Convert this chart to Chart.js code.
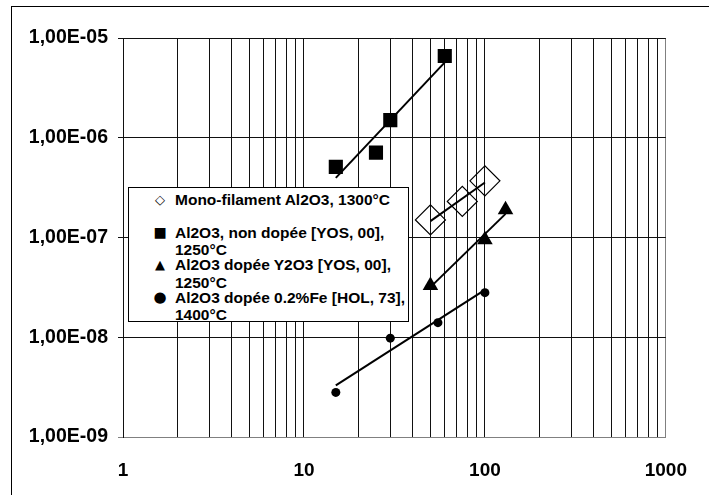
<!DOCTYPE html>
<html>
<head>
<meta charset="utf-8">
<script src="https://cdn.jsdelivr.net/npm/chart.js@4/dist/chart.umd.min.js"></script>
<style>
  body { margin: 0; background: #fff; overflow: hidden; }
  #wrap { position: relative; width: 709px; height: 495px; }
  #frame { position: absolute; left: 11px; top: 6px; width: 720px; height: 520px; border: 1px solid #000; pointer-events: none; }
  #legend {
    position: absolute; left: 128px; top: 187px; width: 279px; height: 130px;
    border: 1px solid #000; background: #fff; overflow: hidden;
    font-family: "Liberation Sans", Arial, sans-serif; font-weight: bold; font-size: 15.5px;
    padding-top: 3px; box-sizing: content-box;
  }
  .item { position: relative; height: 32.5px; }
  .mark { position: absolute; left: 23px; top: 0; width: 16px; line-height: 17.5px; text-align: center; font-family: "DejaVu Sans", sans-serif; font-weight: normal; }
  .txt { position: absolute; left: 46px; top: 0; line-height: 17.5px; white-space: pre; color: #000; }
</style>
</head>
<body>
<div id="wrap">
  <canvas id="c" width="709" height="495"></canvas>
  <div id="frame"></div>
  <div id="legend"></div>
</div>
<script>
// series
const monoX = [50, 75, 100];
const monoY = [1.5e-7, 2.3e-7, 3.7e-7];
const nonDopX = [15, 25, 30, 60];
const nonDopY = [5.1e-7, 7.1e-7, 1.5e-6, 6.6e-6];
const y2o3X = [50, 100, 130];
const y2o3Y = [3.3e-8, 9.5e-8, 1.9e-7];
const feX = [15, 30, 55, 100];
const feY = [2.8e-9, 9.8e-9, 1.4e-8, 2.8e-8];

const seriesLabels = [
  'Mono-filament Al2O3, 1300°C',
  'Al2O3, non dopée [YOS, 00],\n1250°C',
  'Al2O3 dopée Y2O3 [YOS, 00],\n1250°C',
  'Al2O3 dopée 0.2%Fe [HOL, 73],\n1400°C'
];
const legendMarks = ['\u25C7', '\u25A0', '\u25B2', '\u25CF'];

const xTicks = [1, 2, 3, 4, 5, 6, 7, 8, 9, 10, 20, 30, 40, 50, 60, 70, 80, 90, 100, 200, 300, 400, 500, 600, 700, 800, 900, 1000];
const xTickLabels = ['1', '10', '100', '1000'];
const yTicks = [1e-9, 1e-8, 1e-7, 1e-6, 1e-5];
const yTickLabels = ['1,00E-09', '1,00E-08', '1,00E-07', '1,00E-06', '1,00E-05'];

const pts = (xs, ys) => xs.map((x, i) => ({ x: x, y: ys[i] }));

// power-law trend (straight line on log-log), over the data x range
function powerTrend(xs, ys) {
  const lx = xs.map(Math.log10), ly = ys.map(Math.log10);
  const n = xs.length;
  const mx = lx.reduce((a, b) => a + b, 0) / n;
  const my = ly.reduce((a, b) => a + b, 0) / n;
  let sxy = 0, sxx = 0;
  for (let i = 0; i < n; i++) { sxy += (lx[i] - mx) * (ly[i] - my); sxx += (lx[i] - mx) ** 2; }
  const b = sxy / sxx;
  const f = x => Math.pow(10, my + b * (Math.log10(x) - mx));
  const x0 = Math.min(...xs), x1 = Math.max(...xs);
  return [{ x: x0, y: f(x0) }, { x: x1, y: f(x1) }];
}

const trend = (xs, ys) => ({
  type: 'line', data: powerTrend(xs, ys), showLine: true, order: 0,
  borderColor: '#000', borderWidth: 2, pointRadius: 0, fill: false
});

const fontFamily = '"Liberation Sans", Arial, sans-serif';

new Chart(document.getElementById('c'), {
  type: 'scatter',
  data: {
    datasets: [
      trend(monoX, monoY), trend(nonDopX, nonDopY), trend(y2o3X, y2o3Y), trend(feX, feY),
      { data: pts(monoX, monoY), order: 1, pointStyle: 'rectRot', pointRadius: 15, borderWidth: 1.2, borderColor: '#000', backgroundColor: 'rgba(0,0,0,0)' },
      { data: pts(nonDopX, nonDopY), order: 1, pointStyle: 'rect', pointRadius: 10, borderWidth: 0, backgroundColor: '#000' },
      { data: pts(y2o3X, y2o3Y), order: 1, pointStyle: 'triangle', pointRadius: 9, borderWidth: 0, backgroundColor: '#000' },
      { data: pts(feX, feY), order: 1, pointStyle: 'circle', pointRadius: 4.5, borderWidth: 0, backgroundColor: '#000' }
    ]
  },
  options: {
    responsive: false,
    animation: false,
    layout: { padding: { top: 38, right: 41, left: 0, bottom: 0 } },
    plugins: { legend: { display: false }, tooltip: { enabled: false } },
    scales: {
      x: {
        type: 'logarithmic', min: 1, max: 1000,
        afterBuildTicks: s => { s.ticks = xTicks.map(v => ({ value: v })); },
        afterFit: s => { s.height = 58; },
        ticks: {
          autoSkip: false, maxRotation: 0, color: '#000', padding: 22,
          font: { family: fontFamily, weight: 'bold', size: 19 },
          callback: v => xTickLabels.includes(String(v)) ? String(v) : ''
        },
        grid: { color: c => (c.tick && c.tick.value === 1000 ? '#808080' : '#111'), lineWidth: 1, drawTicks: false },
        border: { display: true, color: '#808080', width: 1 }
      },
      y: {
        type: 'logarithmic', min: 1e-9, max: 1e-5,
        afterBuildTicks: s => { s.ticks = yTicks.map(v => ({ value: v })); },
        afterFit: s => { s.width = 123; },
        ticks: {
          autoSkip: false, color: '#000', padding: 10,
          font: { family: fontFamily, weight: 'bold', size: 19.5 },
          callback: v => yTickLabels[yTicks.findIndex(t => Math.abs(t - v) / t < 1e-6)]
        },
        grid: { color: c => (c.tick && c.tick.value === 1e-9 ? '#808080' : '#111'), lineWidth: 1, drawTicks: true, tickLength: 5 },
        border: { display: true, color: '#111', width: 1 }
      }
    }
  }
});

// legend box with wrapped entries, like the original
const lg = document.getElementById('legend');
seriesLabels.forEach((t, i) => {
  const it = document.createElement('div');
  it.className = 'item';
  const m = document.createElement('span');
  m.className = 'mark';
  m.textContent = legendMarks[i];
  m.style.fontSize = i === 1 ? '14px' : (i === 3 ? '15px' : '13px');
  const s = document.createElement('span');
  s.className = 'txt';
  s.textContent = t;
  it.appendChild(m);
  it.appendChild(s);
  lg.appendChild(it);
});
</script>
</body>
</html>
